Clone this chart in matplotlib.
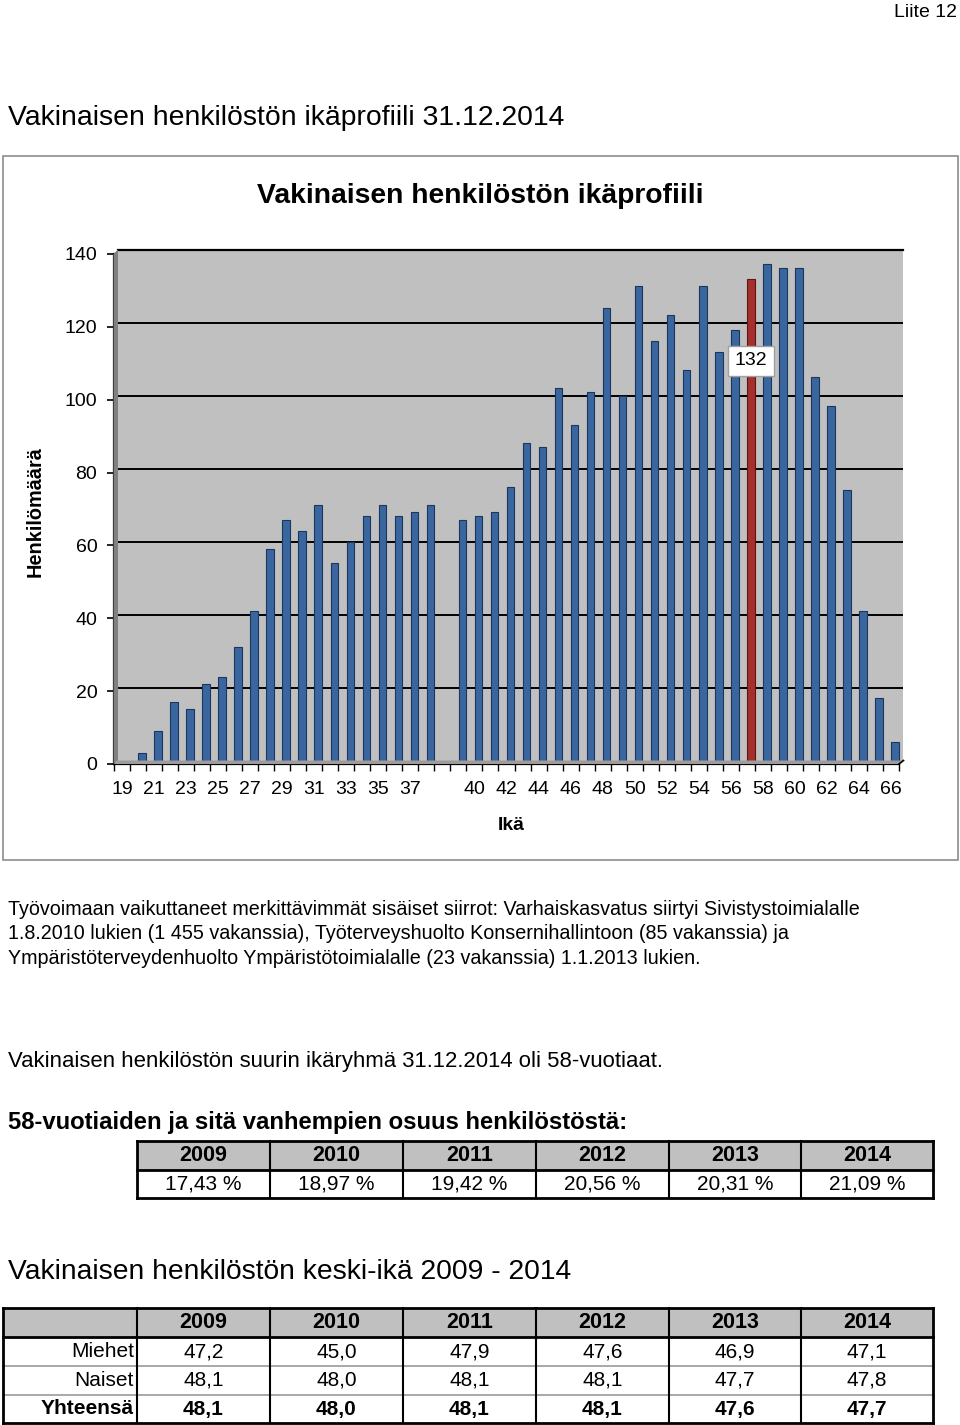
import numpy as np
import matplotlib
matplotlib.use("Agg")
import matplotlib.pyplot as plt
from matplotlib.patches import Polygon, Rectangle

plt.rcParams['font.family'] = ['Liberation Sans', 'DejaVu Sans']

# ---------------- data ----------------
age_labels = (["19", "20", "21", "22", "23", "24", "25", "26", "27", "28", "29", "30",
               "31", "32", "33", "34", "35", "36", "37", "38", "", "39", "40", "41",
               "42", "43", "44", "45", "46", "47", "48", "49", "50", "51", "52", "53",
               "54", "55", "56", "57", "58", "59", "60", "61", "62", "63", "64", "65", "66"])
headcount = [None, 2, 8, 16, 14, 21, 23, 31, 41, 58, 66, 63, 70, 54, 60, 67, 70, 67, 68, 70,
             None, 66, 67, 68, 75, 87, 86, 102, 92, 101, 124, 100, 130, 115, 122, 107, 130,
             112, 118, 132, 136, 135, 135, 105, 97, 74, 41, 17, 5]
highlight_index = 39

years = [2009, 2010, 2011, 2012, 2013, 2014]
share_58plus = [17.43, 18.97, 19.42, 20.56, 20.31, 21.09]
mean_age_men = [47.2, 45.0, 47.9, 47.6, 46.9, 47.1]
mean_age_women = [48.1, 48.0, 48.1, 48.1, 47.7, 47.8]
mean_age_total = [48.1, 48.0, 48.1, 48.1, 47.6, 47.7]

W, H = 960, 1425
fig = plt.figure(figsize=(W / 100, H / 100), dpi=100)
fig.patch.set_facecolor('white')


def frac(x0, x1, ytop, ybot):
    return [x0 / W, (H - ybot) / H, (x1 - x0) / W, (ybot - ytop) / H]


n = len(age_labels)
x = np.arange(n)
vals = np.array([np.nan if v is None else v for v in headcount], dtype=float)

# back wall axes (3D depth shifted)
wall = fig.add_axes(frac(118, 903, 249.5, 760.5))
wall.set_facecolor('#C0C0C0')
wall.set_xlim(-0.5, n - 0.5)
wall.set_ylim(0, 140)
for s in ['left', 'right', 'bottom']:
    wall.spines[s].set_visible(False)
wall.spines['top'].set_linewidth(1.6)
wall.set_yticks(np.arange(20, 141, 20))
wall.yaxis.grid(True, color='black', linewidth=1.4)
wall.set_axisbelow(True)
wall.tick_params(left=False, bottom=False, labelleft=False, labelbottom=False)

colors = ['#A3302C' if i == highlight_index else '#3A66A0' for i in range(n)]
edges = ['#5E1512' if i == highlight_index else '#1C355C' for i in range(n)]
wall.bar(x, vals, width=0.47, color=colors, edgecolor=edges, linewidth=0.8, zorder=3)
wall.text(highlight_index, 109.5, f"{headcount[highlight_index]}", ha='center', va='center',
          fontsize=14, zorder=5,
          bbox=dict(boxstyle='square,pad=0.35', facecolor='white', edgecolor='#A0A0A0', linewidth=1))

# front axes with ticks
ax = fig.add_axes(frac(114, 899, 254, 764))
ax.patch.set_alpha(0)
ax.set_xlim(-0.5, n - 0.5)
ax.set_ylim(0, 140)
for s in ['top', 'right']:
    ax.spines[s].set_visible(False)
ax.spines['left'].set_linewidth(1.6)
ax.spines['bottom'].set_linewidth(1.6)
ax.set_yticks(np.arange(0, 141, 20))
ax.tick_params(axis='y', direction='out', length=5, width=1.2, labelsize=14, pad=7)
ax.set_xticks(np.arange(-0.5, n, 1.0))
ax.set_xticklabels([])
ax.tick_params(axis='x', which='major', direction='out', length=5, width=1.0)
lab_pos = [i for i in range(0, n, 2)]
ax.set_xticks(lab_pos, minor=True)
ax.set_xticklabels([age_labels[i] for i in lab_pos], minor=True)
ax.tick_params(axis='x', which='minor', length=0, labelsize=14, pad=12)

# overlay in pixel coordinates
ov = fig.add_axes([0, 0, 1, 1])
ov.set_xlim(0, W)
ov.set_ylim(H, 0)
ov.axis('off')
ov.patch.set_alpha(0)

# chart frame
ov.add_patch(Rectangle((3, 156), 955, 704, fill=False, edgecolor='#8C8C8C', linewidth=1.2))
# side wall and floor
ov.add_patch(Polygon([(113.5, 764), (113.5, 254), (118, 249.5), (118, 760.5)],
                     closed=True, facecolor='#808080', edgecolor='none'))
ov.add_patch(Polygon([(114, 764), (899, 764), (903, 760.5), (118, 760.5)],
                     closed=True, facecolor='#9C9C9C', edgecolor='none'))
ov.plot([899, 903.5], [764, 760.5], color='black', lw=1.2)

ov.text(957, 12, "Liite 12", ha='right', va='center', fontsize=14)
ov.text(8, 118, "Vakinaisen henkilöstön ikäprofiili 31.12.2014", ha='left', va='center', fontsize=20.4)
ov.text(480, 196, "Vakinaisen henkilöstön ikäprofiili", ha='center', va='center',
        fontsize=20.3, fontweight='bold')
ov.text(35, 512, "Henkilömäärä", ha='center', va='center', rotation=90, fontsize=14.3, fontweight='bold')
ov.text(511, 825, "Ikä", ha='center', va='center', fontsize=14, fontweight='bold')

para = ["Työvoimaan vaikuttaneet merkittävimmät sisäiset siirrot: Varhaiskasvatus siirtyi Sivistystoimialalle",
        "1.8.2010 lukien (1 455 vakanssia), Työterveyshuolto Konsernihallintoon (85 vakanssia) ja",
        "Ympäristöterveydenhuolto Ympäristötoimialalle (23 vakanssia) 1.1.2013 lukien."]
for i, line in enumerate(para):
    ov.text(8, 909 + i * 24.5, line, ha='left', va='center', fontsize=14.2)

ov.text(8, 1062, "Vakinaisen henkilöstön suurin ikäryhmä 31.12.2014 oli 58-vuotiaat.",
        ha='left', va='center', fontsize=15.9)
ov.text(8, 1122, "58-vuotiaiden ja sitä vanhempien osuus henkilöstöstä:",
        ha='left', va='center', fontsize=17.2, fontweight='bold')


def fmt(v, d):
    return f"{v:.{d}f}".replace('.', ',')


# table 1
cx = [137, 270, 403, 536, 669, 801, 933]
ry = [1141, 1170, 1198]
ov.add_patch(Rectangle((cx[0], ry[0]), cx[-1] - cx[0], ry[1] - ry[0], facecolor='#C0C0C0', edgecolor='none'))
for yy in ry:
    ov.plot([cx[0], cx[-1]], [yy, yy], color='black', lw=2)
for xx in cx:
    ov.plot([xx, xx], [ry[0], ry[-1]], color='black', lw=2 if xx in (cx[0], cx[-1]) else 1.5)
for j, yv in enumerate(years):
    xc = (cx[j] + cx[j + 1]) / 2
    ov.text(xc, (ry[0] + ry[1]) / 2, str(yv), ha='center', va='center', fontsize=15.5, fontweight='bold')
    ov.text(xc, (ry[1] + ry[2]) / 2, fmt(share_58plus[j], 2) + " %", ha='center', va='center', fontsize=15)

ov.text(8, 1272, "Vakinaisen henkilöstön keski-ikä 2009 - 2014", ha='left', va='center', fontsize=20.3)

# table 2
cx2 = [3] + cx
ry2 = [1308, 1337, 1366, 1395, 1423]
ov.add_patch(Rectangle((cx2[0], ry2[0]), cx2[-1] - cx2[0], ry2[1] - ry2[0], facecolor='#C0C0C0', edgecolor='none'))
for k, yy in enumerate(ry2):
    if k in (0, 1, len(ry2) - 1):
        ov.plot([cx2[0], cx2[-1]], [yy, yy], color='black', lw=2)
    else:
        ov.plot([cx2[0], cx2[-1]], [yy, yy], color='#9A9A9A', lw=1.2)
for xx in cx2:
    ov.plot([xx, xx], [ry2[0], ry2[-1]], color='black', lw=2 if xx in (cx2[0], cx2[-1]) else 1.5)
for j, yv in enumerate(years):
    xc = (cx2[j + 1] + cx2[j + 2]) / 2
    ov.text(xc, (ry2[0] + ry2[1]) / 2, str(yv), ha='center', va='center', fontsize=15.5, fontweight='bold')
rows = [("Miehet", mean_age_men, 'normal'), ("Naiset", mean_age_women, 'normal'),
        ("Yhteensä", mean_age_total, 'bold')]
for r, (name, series, wt) in enumerate(rows):
    yc = (ry2[r + 1] + ry2[r + 2]) / 2
    ov.text(cx2[1] - 3, yc, name, ha='right', va='center', fontsize=15, fontweight=wt)
    for j, v in enumerate(series):
        xc = (cx2[j + 1] + cx2[j + 2]) / 2
        ov.text(xc, yc, fmt(v, 1), ha='center', va='center', fontsize=15, fontweight=wt)

fig.savefig("out.png", dpi=100)
